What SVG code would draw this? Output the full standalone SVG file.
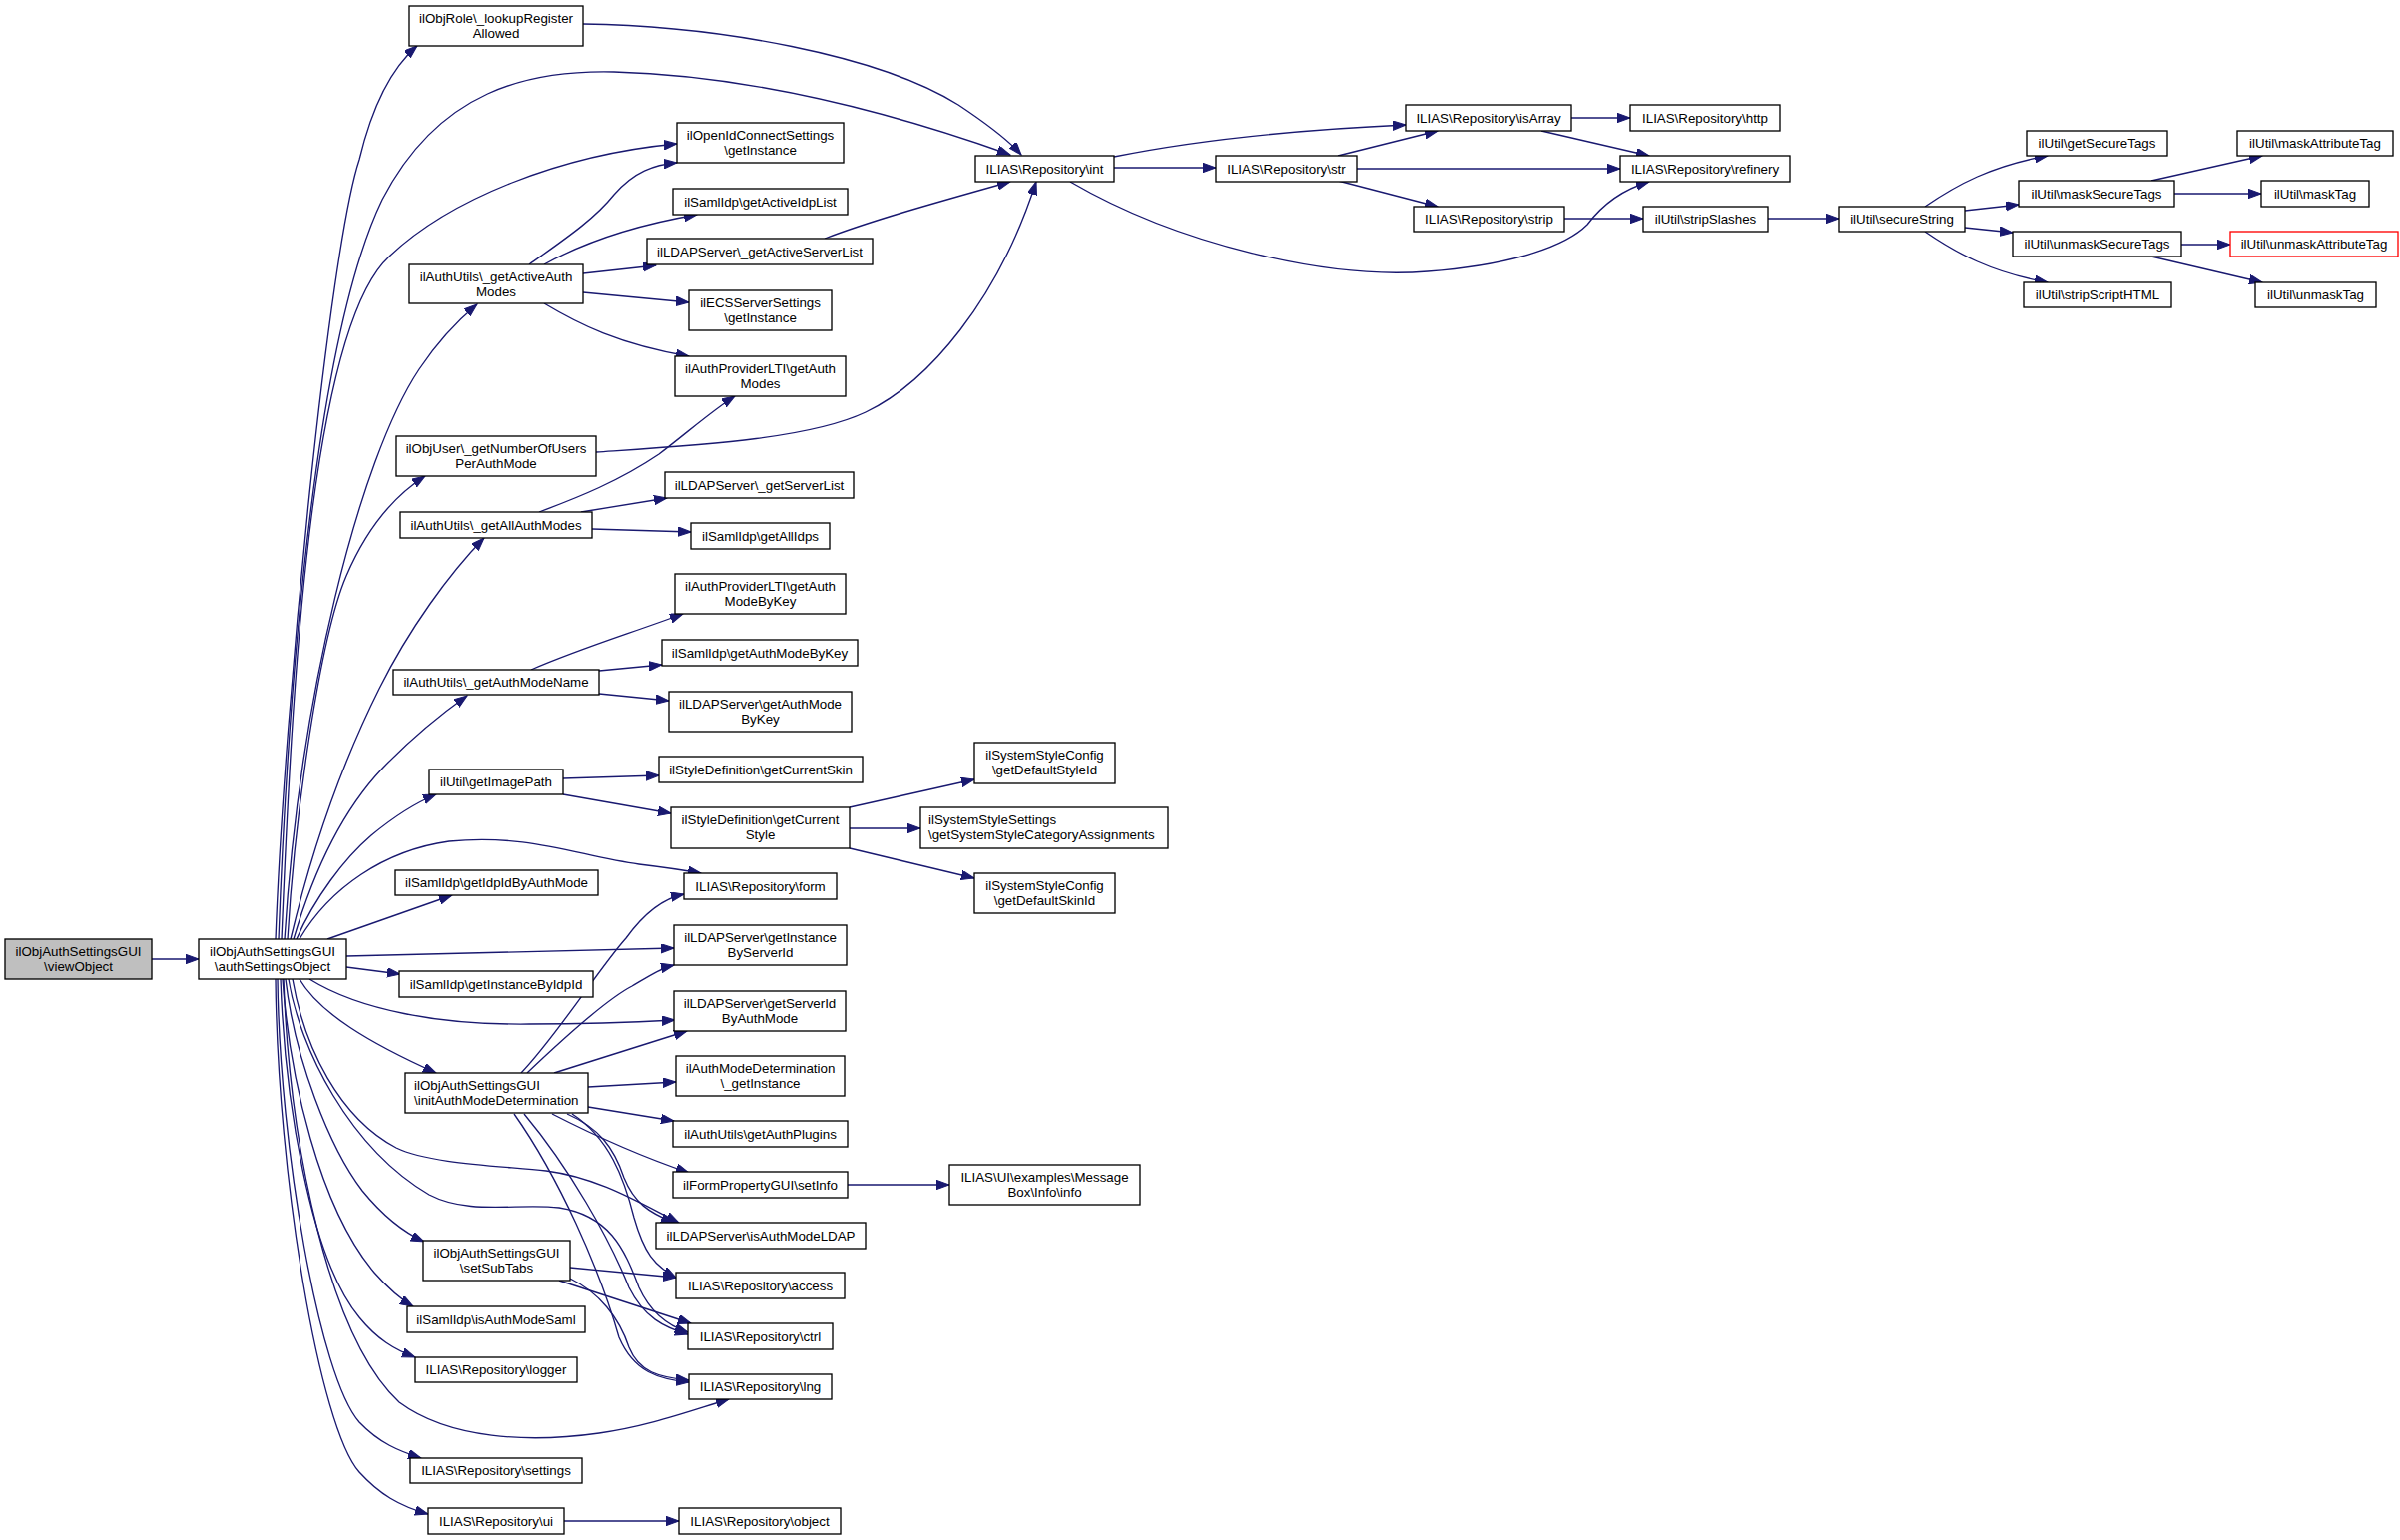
<svg xmlns="http://www.w3.org/2000/svg" width="2404" height="1543" viewBox="0 0 2404 1543">
<style>
.n rect{fill:#fff;stroke:#000;stroke-width:1.33}
.n text{font-family:"Liberation Sans",Arial,Helvetica,sans-serif;font-size:13.33px;fill:#000;text-anchor:middle}
.n text.l{text-anchor:start}
#edges path{fill:none;stroke:#191970;stroke-width:1.33;marker-end:url(#ah)}
</style>
<defs>
<marker id="ah" markerUnits="userSpaceOnUse" markerWidth="14" markerHeight="10" viewBox="0 0 14 10" refX="13" refY="4.7" orient="auto">
<path d="M0,0 L13,4.7 L0,9.4 z" fill="#191970" stroke="#191970" stroke-width="1"/>
</marker>
</defs>
<rect width="2404" height="1543" fill="#fff"/>
<g id="edges">
<path d="M152,961 L199,961"/>
<path d="M276,941 C285,700 330,250 360,160 C372,110 390,70 418,46"/>
<path d="M279,941 C290,650 320,330 383,200 C440,90 530,70 615,72 C760,76 900,115 1012,155"/>
<path d="M584,24 C720,26 880,55 960,105 C990,125 1010,140 1023,155"/>
<path d="M282,941 C292,700 310,330 390,257 C450,200 560,155 678,144"/>
<path d="M285,941 C300,700 360,460 420,370 C440,340 460,320 478,305"/>
<path d="M288,941 C295,820 320,640 347,577 C365,535 390,500 426,477"/>
<path d="M291,941 C315,840 345,760 380,690 C410,630 450,575 485,539"/>
<path d="M294,941 C315,870 345,810 383,770 C410,742 440,717 468,697"/>
<path d="M297,941 C315,900 345,860 372,837 C395,818 415,805 437,796"/>
<path d="M300,941 C330,890 385,852 450,843 C530,835 580,858 640,866 C665,869 685,872 702,875"/>
<path d="M328,941 L453,897"/>
<path d="M347,958 L675,950"/>
<path d="M347,969 L401,976"/>
<path d="M300,981 C320,1015 370,1045 437,1075"/>
<path d="M310,981 C360,1012 440,1027 530,1026 C590,1026 640,1024 676,1022"/>
<path d="M293,981 C305,1050 340,1120 397,1150 C430,1166 500,1168 547,1173 C600,1180 640,1205 680,1225"/>
<path d="M289,981 C300,1050 350,1150 430,1197 C470,1218 520,1205 560,1210 C610,1218 625,1250 640,1290 C650,1312 665,1327 689,1335"/>
<path d="M286,981 C295,1060 330,1150 363,1193 C385,1220 405,1235 425,1244"/>
<path d="M283,981 C290,1080 320,1210 375,1275 C390,1292 400,1301 414,1309"/>
<path d="M281,981 C285,1100 310,1260 360,1320 C378,1342 395,1352 416,1360"/>
<path d="M284,981 C290,1150 330,1340 400,1405 C450,1442 530,1446 600,1436 C650,1429 690,1414 730,1402"/>
<path d="M278,981 C280,1150 320,1380 360,1425 C380,1446 400,1454 422,1461"/>
<path d="M276,981 C278,1180 320,1430 360,1475 C380,1497 400,1509 429,1517"/>
<path d="M530,265 C565,240 595,220 615,195 C635,172 655,165 678,163"/>
<path d="M545,265 C590,240 640,225 698,215"/>
<path d="M584,274 L657,266"/>
<path d="M584,293 L690,303"/>
<path d="M545,304 C580,325 620,345 690,357"/>
<path d="M826,239 C870,222 930,205 1012,182"/>
<path d="M597,453 C700,446 810,440 867,413 C930,383 1000,300 1038,182"/>
<path d="M540,513 C580,498 620,482 660,455 C690,432 715,410 736,397"/>
<path d="M582,513 L668,499"/>
<path d="M593,530 L692,533"/>
<path d="M532,671 C580,650 630,635 684,615"/>
<path d="M600,672 L663,666"/>
<path d="M600,695 L670,702"/>
<path d="M564,780 L660,777"/>
<path d="M564,796 L672,815"/>
<path d="M851,809 L976,781"/>
<path d="M851,830 L922,830"/>
<path d="M851,850 L976,880"/>
<path d="M522,1075 C560,1035 600,970 627,940 C645,915 665,900 685,896"/>
<path d="M528,1075 C570,1035 610,1000 633,988 C650,978 662,970 675,967"/>
<path d="M555,1075 L688,1033"/>
<path d="M589,1089 L677,1084"/>
<path d="M589,1109 L675,1123"/>
<path d="M553,1116 C590,1135 640,1158 690,1175"/>
<path d="M568,1116 C600,1130 615,1150 625,1180 C635,1205 650,1215 675,1225"/>
<path d="M573,1116 C610,1140 625,1180 635,1220 C645,1255 655,1268 677,1280"/>
<path d="M525,1116 C570,1170 610,1240 630,1290 C645,1320 665,1330 689,1337"/>
<path d="M515,1116 C560,1180 600,1270 620,1340 C635,1375 660,1382 690,1385"/>
<path d="M571,1270 L677,1280"/>
<path d="M560,1283 L692,1326"/>
<path d="M571,1281 C600,1295 620,1320 630,1350 C640,1375 660,1380 690,1383"/>
<path d="M565,1524 L680,1524"/>
<path d="M849,1187 L951,1187"/>
<path d="M1116,168 L1218,168"/>
<path d="M1116,157 C1200,140 1300,130 1408,125"/>
<path d="M1072,182 C1180,245 1330,280 1430,272 C1520,265 1570,245 1590,225 C1605,205 1625,190 1652,182"/>
<path d="M1340,156 L1440,131"/>
<path d="M1359,169 L1623,169"/>
<path d="M1340,181 L1440,207"/>
<path d="M1574,118 L1633,118"/>
<path d="M1544,131 L1652,156"/>
<path d="M1566,219 L1646,219"/>
<path d="M1770,219 L1842,219"/>
<path d="M1928,207 C1960,185 1995,166 2051,156"/>
<path d="M1968,211 L2022,205"/>
<path d="M1968,228 L2016,233"/>
<path d="M1928,232 C1960,254 1995,273 2051,283"/>
<path d="M2155,181 L2266,156"/>
<path d="M2178,194 L2265,194"/>
<path d="M2185,245 L2234,245"/>
<path d="M2155,257 L2266,283"/>
</g>
<g id="viewObject" class="n"><rect x="5" y="941" width="147" height="40" style="fill:#bfbfbf"/><text x="78.5" y="957.5">ilObjAuthSettingsGUI</text><text x="78.5" y="972.5">\viewObject</text></g>
<g id="authSettingsObject" class="n"><rect x="199" y="941" width="148" height="40"/><text x="273" y="957.5">ilObjAuthSettingsGUI</text><text x="273" y="972.5">\authSettingsObject</text></g>
<g id="lookupRegisterAllowed" class="n"><rect x="410" y="6" width="174" height="40"/><text x="497" y="22.5">ilObjRole\_lookupRegister</text><text x="497" y="37.5">Allowed</text></g>
<g id="repo_int" class="n"><rect x="977" y="156" width="139" height="26"/><text x="1046.5" y="173.5">ILIAS\Repository\int</text></g>
<g id="openid_getInstance" class="n"><rect x="678" y="123" width="167" height="40"/><text x="761.5" y="139.5">ilOpenIdConnectSettings</text><text x="761.5" y="154.5">\getInstance</text></g>
<g id="getActiveIdpList" class="n"><rect x="674" y="189" width="175" height="26"/><text x="761.5" y="206.5">ilSamlIdp\getActiveIdpList</text></g>
<g id="getActiveServerList" class="n"><rect x="648" y="239" width="226" height="26"/><text x="761" y="256.5">ilLDAPServer\_getActiveServerList</text></g>
<g id="getActiveAuthModes" class="n"><rect x="410" y="265" width="174" height="39"/><text x="497" y="281.5">ilAuthUtils\_getActiveAuth</text><text x="497" y="296.5">Modes</text></g>
<g id="ecs_getInstance" class="n"><rect x="690" y="291" width="143" height="40"/><text x="761.5" y="307.5">ilECSServerSettings</text><text x="761.5" y="322.5">\getInstance</text></g>
<g id="lti_getAuthModes" class="n"><rect x="676" y="357" width="171" height="40"/><text x="761.5" y="373.5">ilAuthProviderLTI\getAuth</text><text x="761.5" y="388.5">Modes</text></g>
<g id="getNumberOfUsersPerAuthMode" class="n"><rect x="397" y="437" width="200" height="40"/><text x="497" y="453.5">ilObjUser\_getNumberOfUsers</text><text x="497" y="468.5">PerAuthMode</text></g>
<g id="getServerList" class="n"><rect x="666" y="473" width="189" height="26"/><text x="760.5" y="490.5">ilLDAPServer\_getServerList</text></g>
<g id="getAllAuthModes" class="n"><rect x="401" y="513" width="192" height="26"/><text x="497" y="530.5">ilAuthUtils\_getAllAuthModes</text></g>
<g id="getAllIdps" class="n"><rect x="692" y="524" width="139" height="26"/><text x="761.5" y="541.5">ilSamlIdp\getAllIdps</text></g>
<g id="lti_getAuthModeByKey" class="n"><rect x="676" y="575" width="171" height="40"/><text x="761.5" y="591.5">ilAuthProviderLTI\getAuth</text><text x="761.5" y="606.5">ModeByKey</text></g>
<g id="saml_getAuthModeByKey" class="n"><rect x="663" y="641" width="196" height="26"/><text x="761" y="658.5">ilSamlIdp\getAuthModeByKey</text></g>
<g id="getAuthModeName" class="n"><rect x="394" y="671" width="206" height="25"/><text x="497" y="688">ilAuthUtils\_getAuthModeName</text></g>
<g id="ldap_getAuthModeByKey" class="n"><rect x="670" y="693" width="183" height="40"/><text x="761.5" y="709.5">ilLDAPServer\getAuthMode</text><text x="761.5" y="724.5">ByKey</text></g>
<g id="getImagePath" class="n"><rect x="430" y="771" width="134" height="25"/><text x="497" y="788">ilUtil\getImagePath</text></g>
<g id="getCurrentSkin" class="n"><rect x="660" y="758" width="204" height="26"/><text x="762" y="775.5">ilStyleDefinition\getCurrentSkin</text></g>
<g id="getCurrentStyle" class="n"><rect x="672" y="809" width="179" height="41"/><text x="761.5" y="825.5">ilStyleDefinition\getCurrent</text><text x="761.5" y="840.5">Style</text></g>
<g id="getDefaultStyleId" class="n"><rect x="976" y="744" width="141" height="41"/><text x="1046.5" y="760.5">ilSystemStyleConfig</text><text x="1046.5" y="775.5">\getDefaultStyleId</text></g>
<g id="getSystemStyleCategoryAssignments" class="n"><rect x="922" y="809" width="248" height="41"/><text class="l" x="930" y="825.5">ilSystemStyleSettings</text><text class="l" x="930" y="840.5">\getSystemStyleCategoryAssignments</text></g>
<g id="getDefaultSkinId" class="n"><rect x="976" y="875" width="141" height="40"/><text x="1046.5" y="891.5">ilSystemStyleConfig</text><text x="1046.5" y="906.5">\getDefaultSkinId</text></g>
<g id="repo_form" class="n"><rect x="685" y="875" width="153" height="26"/><text x="761.5" y="892.5">ILIAS\Repository\form</text></g>
<g id="getIdpIdByAuthMode" class="n"><rect x="396" y="872" width="203" height="25"/><text x="497.5" y="889">ilSamlIdp\getIdpIdByAuthMode</text></g>
<g id="getInstanceByServerId" class="n"><rect x="675" y="927" width="173" height="40"/><text x="761.5" y="943.5">ilLDAPServer\getInstance</text><text x="761.5" y="958.5">ByServerId</text></g>
<g id="getInstanceByIdpId" class="n"><rect x="400" y="973" width="194" height="26"/><text x="497" y="990.5">ilSamlIdp\getInstanceByIdpId</text></g>
<g id="getServerIdByAuthMode" class="n"><rect x="675" y="993" width="172" height="40"/><text x="761" y="1009.5">ilLDAPServer\getServerId</text><text x="761" y="1024.5">ByAuthMode</text></g>
<g id="initAuthModeDetermination" class="n"><rect x="406" y="1075" width="183" height="40"/><text class="l" x="415" y="1091.5">ilObjAuthSettingsGUI</text><text class="l" x="415" y="1106.5">\initAuthModeDetermination</text></g>
<g id="amd_getInstance" class="n"><rect x="677" y="1058" width="169" height="40"/><text x="761.5" y="1074.5">ilAuthModeDetermination</text><text x="761.5" y="1089.5">\_getInstance</text></g>
<g id="getAuthPlugins" class="n"><rect x="674" y="1123" width="175" height="26"/><text x="761.5" y="1140.5">ilAuthUtils\getAuthPlugins</text></g>
<g id="setInfo" class="n"><rect x="674" y="1174" width="175" height="26"/><text x="761.5" y="1191.5">ilFormPropertyGUI\setInfo</text></g>
<g id="messagebox_info" class="n"><rect x="951" y="1167" width="191" height="40"/><text x="1046.5" y="1183.5">ILIAS\UI\examples\Message</text><text x="1046.5" y="1198.5">Box\Info\info</text></g>
<g id="isAuthModeLDAP" class="n"><rect x="657" y="1225" width="210" height="26"/><text x="762" y="1242.5">ilLDAPServer\isAuthModeLDAP</text></g>
<g id="setSubTabs" class="n"><rect x="424" y="1243" width="147" height="40"/><text x="497.5" y="1259.5">ilObjAuthSettingsGUI</text><text x="497.5" y="1274.5">\setSubTabs</text></g>
<g id="repo_access" class="n"><rect x="677" y="1275" width="169" height="26"/><text x="761.5" y="1292.5">ILIAS\Repository\access</text></g>
<g id="isAuthModeSaml" class="n"><rect x="408" y="1309" width="178" height="26"/><text x="497" y="1326.5">ilSamlIdp\isAuthModeSaml</text></g>
<g id="repo_ctrl" class="n"><rect x="689" y="1326" width="145" height="26"/><text x="761.5" y="1343.5">ILIAS\Repository\ctrl</text></g>
<g id="repo_logger" class="n"><rect x="416" y="1360" width="162" height="25"/><text x="497" y="1377">ILIAS\Repository\logger</text></g>
<g id="repo_lng" class="n"><rect x="690" y="1377" width="143" height="25"/><text x="761.5" y="1394">ILIAS\Repository\lng</text></g>
<g id="repo_settings" class="n"><rect x="411" y="1461" width="172" height="25"/><text x="497" y="1478">ILIAS\Repository\settings</text></g>
<g id="repo_ui" class="n"><rect x="429" y="1511" width="136" height="26"/><text x="497" y="1528.5">ILIAS\Repository\ui</text></g>
<g id="repo_object" class="n"><rect x="680" y="1511" width="162" height="26"/><text x="761" y="1528.5">ILIAS\Repository\object</text></g>
<g id="repo_str" class="n"><rect x="1218" y="156" width="141" height="26"/><text x="1288.5" y="173.5">ILIAS\Repository\str</text></g>
<g id="repo_isArray" class="n"><rect x="1408" y="105" width="166" height="26"/><text x="1491" y="122.5">ILIAS\Repository\isArray</text></g>
<g id="repo_strip" class="n"><rect x="1416" y="207" width="151" height="25"/><text x="1491.5" y="224">ILIAS\Repository\strip</text></g>
<g id="repo_http" class="n"><rect x="1633" y="105" width="150" height="26"/><text x="1708" y="122.5">ILIAS\Repository\http</text></g>
<g id="repo_refinery" class="n"><rect x="1623" y="156" width="170" height="26"/><text x="1708" y="173.5">ILIAS\Repository\refinery</text></g>
<g id="stripSlashes" class="n"><rect x="1646" y="207" width="125" height="25"/><text x="1708.5" y="224">ilUtil\stripSlashes</text></g>
<g id="secureString" class="n"><rect x="1842" y="207" width="126" height="25"/><text x="1905" y="224">ilUtil\secureString</text></g>
<g id="getSecureTags" class="n"><rect x="2030" y="131" width="141" height="25"/><text x="2100.5" y="148">ilUtil\getSecureTags</text></g>
<g id="maskSecureTags" class="n"><rect x="2022" y="181" width="156" height="26"/><text x="2100" y="198.5">ilUtil\maskSecureTags</text></g>
<g id="unmaskSecureTags" class="n"><rect x="2016" y="232" width="169" height="25"/><text x="2100.5" y="249">ilUtil\unmaskSecureTags</text></g>
<g id="stripScriptHTML" class="n"><rect x="2027" y="283" width="148" height="25"/><text x="2101" y="300">ilUtil\stripScriptHTML</text></g>
<g id="maskAttributeTag" class="n"><rect x="2241" y="131" width="156" height="25"/><text x="2319" y="148">ilUtil\maskAttributeTag</text></g>
<g id="maskTag" class="n"><rect x="2265" y="181" width="108" height="26"/><text x="2319" y="198.5">ilUtil\maskTag</text></g>
<g id="unmaskAttributeTag" class="n"><rect x="2234" y="232" width="168" height="25" style="stroke:#ff0000"/><text x="2318" y="249">ilUtil\unmaskAttributeTag</text></g>
<g id="unmaskTag" class="n"><rect x="2259" y="283" width="121" height="25"/><text x="2319.5" y="300">ilUtil\unmaskTag</text></g>
</svg>
